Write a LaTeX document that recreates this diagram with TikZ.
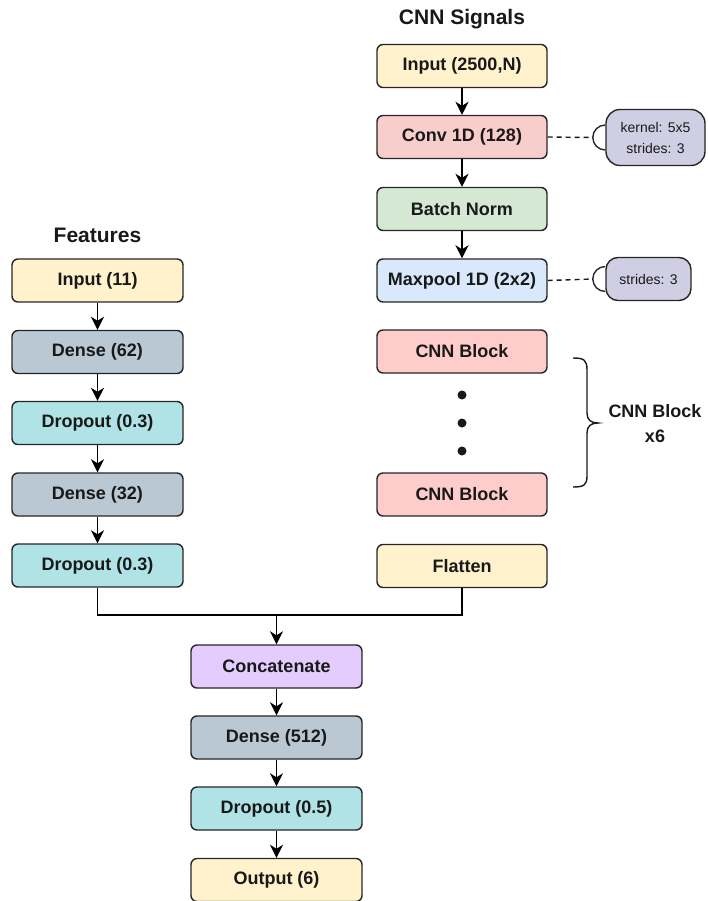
\documentclass[tikz,border=0pt]{standalone}
\usepackage{fontspec}
\setmainfont{Liberation Sans}
\usetikzlibrary{arrows.meta,calc}
\definecolor{cyellow}{HTML}{FFF2CC}
\definecolor{cconv}{HTML}{F8CECC}
\definecolor{cgreen}{HTML}{D5E8D4}
\definecolor{cblue}{HTML}{DAE8FC}
\definecolor{cblock}{HTML}{FFCCCC}
\definecolor{cdense}{HTML}{BAC8D3}
\definecolor{cdrop}{HTML}{B0E3E6}
\definecolor{cpurple}{HTML}{E5CCFF}
\definecolor{cnote}{HTML}{D0CEE2}
\tikzset{
  layer/.style={rectangle, rounded corners=6pt, draw=black!85, line width=1.4pt,
    minimum width=171pt, minimum height=43pt, inner sep=0pt,
    font=\bfseries\fontsize{18}{20}\selectfont, text=black!90},
  note/.style={rectangle, rounded corners=14pt, draw=black!85, line width=1.4pt,
    fill=cnote, inner sep=0pt, align=center,
    font=\fontsize{14}{21}\selectfont, text=black!90},
  title/.style={font=\bfseries\fontsize{21}{24}\selectfont, text=black!90},
  arr/.style={line width=1.7pt, draw=black, -{Stealth[length=13pt 0,width=13pt 0,inset=4pt]}},
  wire/.style={line width=1.7pt, draw=black},
  dotmark/.style={circle, fill=black!90, minimum size=9pt, inner sep=0pt}
}
\begin{document}
\begin{tikzpicture}[x=1pt,y=-1pt]
\useasboundingbox (0,0) rectangle (707,901);
% titles
\node[title] (tcnn) at (462,19) {CNN Signals};
\node[title] (tfeat) at (97.5,235) {Features};
% CNN column
\node[layer, fill=cyellow, minimum width=170pt] (in2) at (462,66) {Input (2500,N)};
\node[layer, fill=cconv, minimum width=170pt] (conv) at (462,137) {Conv 1D (128)};
\node[layer, fill=cgreen, minimum width=170pt] (bn) at (462,209) {Batch Norm};
\node[layer, fill=cblue, minimum width=170pt] (mp) at (462,280.5) {Maxpool 1D (2x2)};
\node[layer, fill=cblock, minimum width=170pt] (cb1) at (462,351.5) {CNN Block};
\node[dotmark] (d1) at (462,395) {};
\node[dotmark] (d2) at (462,423) {};
\node[dotmark] (d3) at (462,451) {};
\node[layer, fill=cblock, minimum width=170pt] (cb2) at (462,494.5) {CNN Block};
\node[layer, fill=cyellow, minimum width=170pt] (fl) at (462,566) {Flatten};
% notes
\node[note, minimum width=99pt, minimum height=56pt] (kc) at (655.5,137.5) {kernel: 5x5\\strides: 3};
\node[note, minimum width=85pt, minimum height=43pt, rounded corners=12pt] (sc) at (648.5,279) {strides: 3};
\draw[line width=1.4pt, draw=black!85] (kc.west) ++(0,-12.5) arc[start angle=270,end angle=90,radius=12.5];
\draw[line width=1.4pt, draw=black!85] (sc.west) ++(0,-12.5) arc[start angle=270,end angle=90,radius=12.5];
\draw[line width=1.4pt, draw=black!90, dash pattern=on 5pt off 4pt] (conv.east) -- ([xshift=-12.5pt]kc.west);
\draw[line width=1.4pt, draw=black!90, dash pattern=on 5pt off 4pt] (mp.east) -- ([xshift=-12.5pt]sc.west);
% brace
\draw[line width=1.4pt, draw=black!90]
  (573,358) .. controls (584,358) and (587,360) .. (587,370) -- (587,413)
  .. controls (587,420) and (591,423) .. (598,423)
  .. controls (591,423) and (587,426) .. (587,433) -- (587,476)
  .. controls (587,485) and (584,487) .. (573,487);
\node[title, font=\bfseries\fontsize{18}{25}\selectfont, align=center] (lbl) at (655,424) {CNN Block\\x6};
% Features column
\node[layer, fill=cyellow] (in1) at (97.5,280.5) {Input (11)};
\node[layer, fill=cdense] (d62) at (97.5,352) {Dense (62)};
\node[layer, fill=cdrop] (do1) at (97.5,423) {Dropout (0.3)};
\node[layer, fill=cdense] (d32) at (97.5,494.5) {Dense (32)};
\node[layer, fill=cdrop] (do2) at (97.5,565.5) {Dropout (0.3)};
% bottom column
\node[layer, fill=cpurple] (cat) at (276.5,666.5) {Concatenate};
\node[layer, fill=cdense] (d512) at (276.5,737.5) {Dense (512)};
\node[layer, fill=cdrop] (do3) at (276.5,808.5) {Dropout (0.5)};
\node[layer, fill=cyellow] (out) at (276.5,880) {Output (6)};
% connectors
\draw[arr] (in2) -- (conv);
\draw[arr] (conv) -- (bn);
\draw[arr] (bn) -- (mp);
\draw[arr] (in1) -- (d62);
\draw[arr] (d62) -- (do1);
\draw[arr] (do1) -- (d32);
\draw[arr] (d32) -- (do2);
\coordinate (m) at (276.5,615);
\draw[wire] (do2.south) |- (m) -| (fl.south);
\draw[arr] (m) -- (cat);
\draw[arr] (cat) -- (d512);
\draw[arr] (d512) -- (do3);
\draw[arr] (do3) -- (out);
\end{tikzpicture}
\end{document}
